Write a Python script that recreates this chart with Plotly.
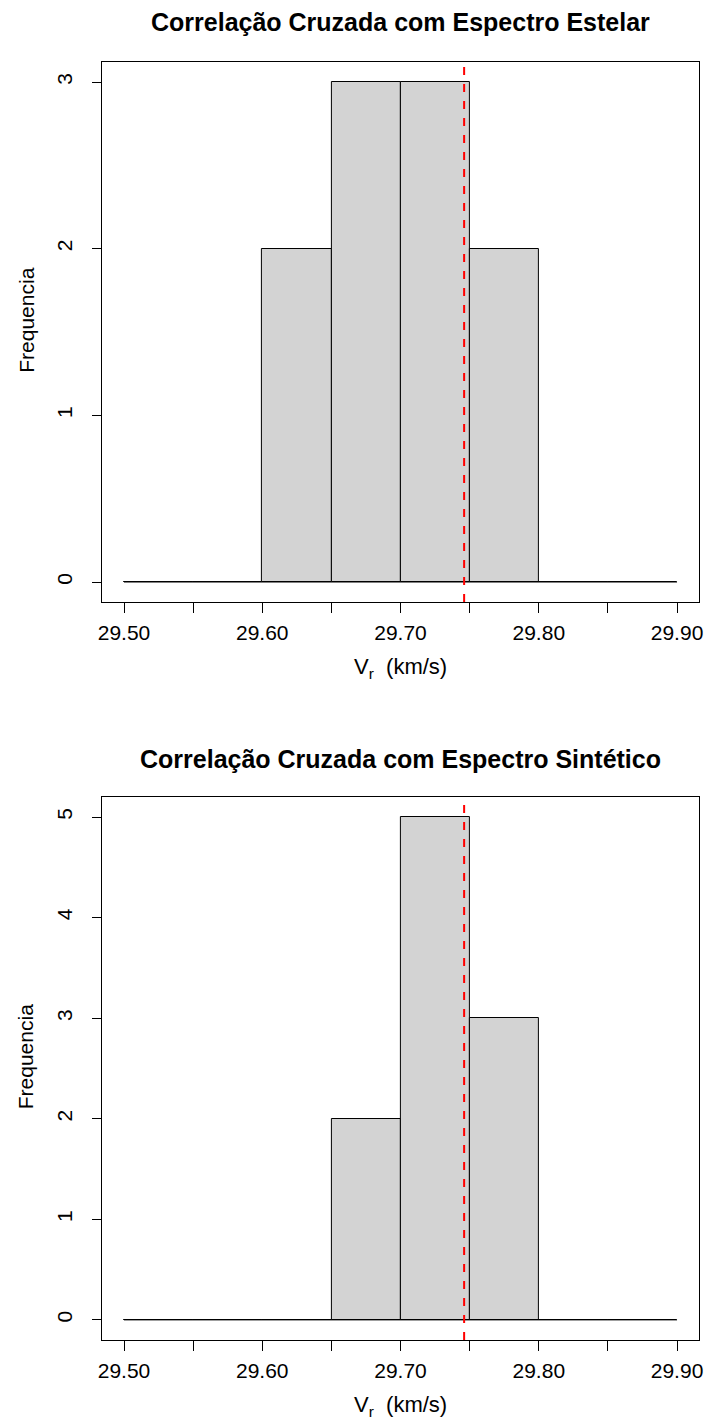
import plotly.graph_objects as go

# Histogram bin edges (km/s) shared by both panels
breaks = [29.50, 29.55, 29.60, 29.65, 29.70, 29.75, 29.80, 29.85, 29.90]

# Counts per bin
counts_estelar = [0, 0, 2, 3, 3, 2, 0, 0]
counts_sintetico = [0, 0, 0, 2, 5, 3, 0, 0]

# Reference velocity marked by the dashed line
vr_mean = 29.746

titles = ["Correlação Cruzada com Espectro Estelar",
          "Correlação Cruzada com Espectro Sintético"]
xtick_vals = [29.50, 29.60, 29.70, 29.80, 29.90]
xtick_text = ["29.50", "29.60", "29.70", "29.80", "29.90"]

W, H = 717, 1420
FONT = "Liberation Sans, Arial, Helvetica, sans-serif"
TICK_FS = 21
LABEL_FS = 22
TITLE_FS = 25

# pixel geometry of the two plot boxes (left, right, top, bottom)
box_x = (99, 703)
boxes_y = [(62, 602), (797, 1340)]


def px_to_paper_y(py):
    return 1 - py / H


fig = go.Figure()
panels = [counts_estelar, counts_sintetico]
annotations = []
shapes = []

for i, counts in enumerate(panels):
    ax = "" if i == 0 else "2"
    xref, yref = "x" + ax, "y" + ax
    centers = [(breaks[k] + breaks[k + 1]) / 2 for k in range(len(counts))]
    widths = [breaks[k + 1] - breaks[k] for k in range(len(counts))]
    fig.add_trace(go.Bar(
        x=centers, y=counts, width=widths, base=0,
        marker=dict(color="#D3D3D3", line=dict(color="black", width=1)),
        xaxis=xref, yaxis=yref, showlegend=False, hoverinfo="skip",
    ))
    # empty bins collapse onto the baseline
    fig.add_trace(go.Scatter(
        x=[breaks[0], breaks[-1]], y=[0, 0], mode="lines",
        line=dict(color="black", width=1),
        xaxis=xref, yaxis=yref, showlegend=False, hoverinfo="skip",
    ))

    ymax = max(counts)
    pad = 0.04 * ymax
    x_pad = 0.04 * (breaks[-1] - breaks[0])
    top, bottom = boxes_y[i]
    xdom = [box_x[0] / W, box_x[1] / W]
    ydom = [px_to_paper_y(bottom), px_to_paper_y(top)]

    fig.update_layout(**{
        "xaxis" + ax: dict(
            domain=xdom, range=[breaks[0] - x_pad, breaks[-1] + x_pad],
            anchor=yref, showgrid=False, zeroline=False,
            showline=True, mirror=True, linecolor="black", linewidth=1,
            ticks="outside", ticklen=10, tickwidth=1, tickcolor="black",
            tickvals=xtick_vals, ticktext=xtick_text,
            minor=dict(tickvals=breaks, ticks="outside", ticklen=10,
                       tickwidth=1, tickcolor="black", showgrid=False),
            tickfont=dict(family=FONT, size=TICK_FS, color="black"),
            ticklabelstandoff=2,
        ),
        "yaxis" + ax: dict(
            domain=ydom, range=[-pad, ymax + pad],
            anchor=xref, showgrid=False, zeroline=False,
            showline=True, mirror=True, linecolor="black", linewidth=1,
            ticks="outside", ticklen=9, tickwidth=1, tickcolor="black",
            tickvals=list(range(0, ymax + 1)),
            tickangle=-90,
            tickfont=dict(family=FONT, size=TICK_FS, color="black"),
            ticklabelstandoff=12,
        ),
    })

    shapes.append(dict(
        type="line", xref=xref, yref=yref + " domain",
        x0=vr_mean, x1=vr_mean, y0=0, y1=1,
        line=dict(color="red", width=2, dash="8px,9px"),
    ))

    cx = (box_x[0] + box_x[1]) / 2 / W
    title_y = 22 if i == 0 else 759
    annotations.append(dict(
        text="<b>" + titles[i] + "</b>", x=cx, y=px_to_paper_y(title_y),
        xref="paper", yref="paper", showarrow=False,
        xanchor="center", yanchor="middle",
        font=dict(family=FONT, size=TITLE_FS, color="black"),
    ))
    annotations.append(dict(
        text="V<sub>r</sub>&nbsp; (km/s)", x=cx, y=px_to_paper_y(bottom + 66),
        xref="paper", yref="paper", showarrow=False,
        xanchor="center", yanchor="middle",
        font=dict(family=FONT, size=LABEL_FS, color="black"),
    ))
    annotations.append(dict(
        text="Frequencia", x=22 / W,
        y=px_to_paper_y((top + bottom) / 2 - 12),
        xref="paper", yref="paper", showarrow=False, textangle=-90,
        xanchor="center", yanchor="middle",
        font=dict(family=FONT, size=TICK_FS, color="black"),
    ))

fig.update_layout(
    width=W, height=H, margin=dict(l=0, r=0, t=0, b=0),
    paper_bgcolor="white", plot_bgcolor="white",
    bargap=0, annotations=annotations, shapes=shapes,
)

fig.write_html("out.html")
